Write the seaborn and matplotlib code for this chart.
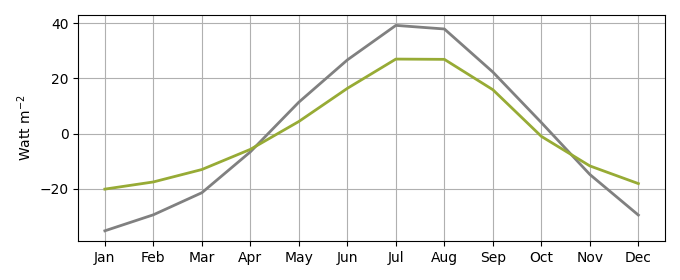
import matplotlib
matplotlib.use("Agg")
import matplotlib.pyplot as plt
import seaborn as sns
import pandas as pd

months = ["Jan", "Feb", "Mar", "Apr", "May", "Jun", "Jul", "Aug", "Sep", "Oct", "Nov", "Dec"]
gray_series = [-35.2, -29.4, -21.4, -6.6, 11.4, 26.7, 39.2, 37.9, 22.3, 4.0, -14.8, -29.5]
green_series = [-20.1, -17.5, -13.0, -5.7, 4.4, 16.4, 27.0, 26.9, 15.9, -1.0, -11.7, -18.1]

df = pd.DataFrame({"month": months, "idx": range(len(months)),
                   "gray": gray_series, "green": green_series})

fig = plt.figure(figsize=(6.8, 2.8), dpi=100)
ax = fig.add_axes([0.115, 0.139, 0.863, 0.807])
sns.lineplot(data=df, x="idx", y="gray", ax=ax, color="#808080", linewidth=2)
sns.lineplot(data=df, x="idx", y="green", ax=ax, color="#97ab35", linewidth=2)
ax.set_xticks(df["idx"])
ax.set_xticklabels(months)
ax.set_xlabel("")
ax.set_ylabel("Watt m$^{-2}$")
ax.grid(True)
ax.set_axisbelow(True)
fig.savefig("out.png", dpi=100)
